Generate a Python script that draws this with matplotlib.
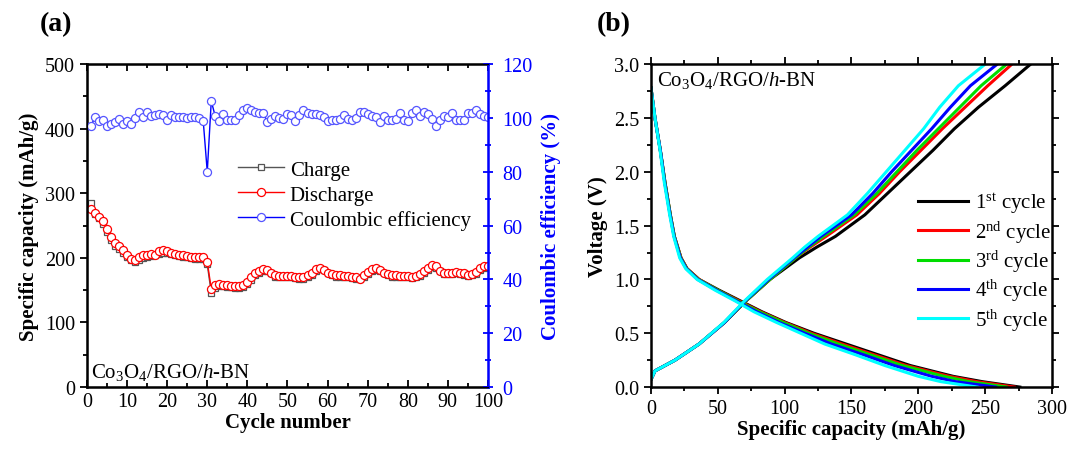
import matplotlib
matplotlib.use("Agg")
import matplotlib.pyplot as plt
from matplotlib.ticker import MultipleLocator

plt.rcParams['font.family'] = ['Liberation Serif', 'DejaVu Serif']
plt.rcParams['mathtext.fontset'] = 'custom'
plt.rcParams['mathtext.rm'] = 'Liberation Serif'
plt.rcParams['mathtext.it'] = 'Liberation Serif:italic'
plt.rcParams['font.size'] = 15

# ---- panel (a): cycling data ----
cycles = list(range(1, 101))
discharge = [276, 270, 264, 257, 245, 232, 223, 218, 212, 205,
             199, 196, 201, 204, 205, 206, 205, 210, 212, 210,
             208, 206, 205, 204, 203, 202, 201, 201, 201, 194,
             152, 158, 160, 158, 158, 157, 156, 156, 158, 163,
             170, 177, 180, 183, 182, 177, 173, 172, 172, 172,
             172, 171, 170, 170, 173, 177, 183, 185, 182, 177,
             175, 173, 173, 172, 172, 171, 170, 168, 173, 178,
             183, 184, 182, 177, 175, 173, 173, 172, 172, 172,
             171, 172, 175, 180, 185, 189, 187, 180, 177, 177,
             177, 178, 177, 176, 173, 175, 178, 185, 188, 188]
charge = [285, 268, 262, 252, 240, 228, 218, 214, 208, 202,
          196, 194, 196, 200, 202, 203, 204, 206, 208, 208,
          206, 204, 203, 202, 201, 200, 199, 199, 199, 190,
          146, 154, 157, 156, 155, 155, 154, 154, 155, 160,
          166, 173, 177, 180, 180, 176, 171, 170, 170, 170,
          170, 169, 168, 168, 170, 174, 180, 183, 181, 176,
          173, 171, 171, 170, 170, 169, 168, 167, 170, 175,
          180, 182, 180, 176, 173, 171, 171, 170, 170, 170,
          169, 170, 172, 177, 182, 186, 185, 179, 175, 175,
          175, 176, 175, 174, 172, 173, 175, 182, 185, 186]
efficiency = [96.9, 100.4, 98.8, 99.4, 97.1, 97.9, 98.4, 99.6, 97.9, 99.0,
              97.9, 100.0, 102.2, 100.4, 102.1, 100.9, 101.2, 101.6, 101.2, 99.4,
              101.2, 100.4, 100.4, 100.2, 100.0, 100.4, 100.4, 100.0, 98.8, 80.0,
              106.3, 100.6, 98.8, 101.5, 99.4, 99.4, 99.4, 101.2, 102.9, 103.7,
              103.1, 102.1, 101.9, 101.9, 98.4, 99.6, 100.6, 100.0, 99.6, 101.6,
              101.2, 99.0, 101.2, 103.1, 101.9, 101.6, 101.6, 101.2, 100.4, 98.8,
              99.4, 99.4, 99.6, 101.2, 99.6, 99.4, 100.0, 102.1, 102.1, 101.6,
              100.6, 100.4, 98.4, 100.9, 99.4, 99.4, 99.6, 101.9, 99.4, 98.8,
              101.9, 103.1, 100.9, 102.1, 101.6, 99.6, 97.1, 99.4, 100.6, 100.4,
              101.9, 99.1, 99.1, 99.1, 101.9, 101.9, 102.9, 101.6, 100.6, 100.4]

# ---- panel (b): voltage profiles, capacity read at fixed voltages ----
cycle_labels = ['1$^{\\mathrm{st}}$ cycle', '2$^{\\mathrm{nd}}$ cycle', '3$^{\\mathrm{rd}}$ cycle',
                '4$^{\\mathrm{th}}$ cycle', '5$^{\\mathrm{th}}$ cycle']
cycle_colors = ['black', 'red', '#00dd00', 'blue', 'cyan']

dis_volt = [2.78, 2.5, 2.2, 1.9, 1.6, 1.4, 1.2, 1.1, 1.0, 0.9, 0.8, 0.7, 0.6, 0.5,
            0.4, 0.3, 0.2, 0.1, 0.05, 0.0]
dis_cap_1 = [0, 3, 7, 10.5, 14.5, 17.5, 22.5, 27, 36, 51, 67, 83, 101, 122, 146, 170, 194, 226, 248, 276]
dis_cap_2 = [0, 3, 7, 10.5, 14.5, 17.5, 22.5, 27, 36, 50, 66, 82, 100, 120, 143, 167, 191, 223, 244, 272]
dis_cap_3 = [0, 3, 7, 10.5, 14.5, 17.5, 22.3, 26.8, 35.5, 50, 65, 81, 99, 118, 140, 164, 188, 219, 238, 266]
dis_cap_4 = [0, 3, 7, 10.3, 14.3, 17.3, 22, 26.5, 35, 49, 64, 79, 96, 115, 135, 159, 182, 210, 228, 258]
dis_cap_5 = [0, 3, 6.8, 10, 14, 17, 21.5, 26, 34.5, 48, 63, 77, 94, 112, 130, 153, 175, 200, 217, 244]

chg_volt = [0.07, 0.15, 0.25, 0.4, 0.6, 0.8, 1.0, 1.2, 1.3, 1.4, 1.6, 1.8, 2.0, 2.2, 2.4, 2.6, 2.8, 3.0]
chg_cap_1 = [0, 3, 18, 36, 55, 71, 89, 111, 124, 138, 160, 177, 194, 211, 227, 245, 265, 284]
chg_cap_2 = [0, 3, 18, 36, 55, 71, 89, 108, 119, 131, 154, 171, 186, 202, 218, 235, 252, 270]
chg_cap_3 = [0, 3, 18, 36, 55, 71, 89, 108, 118, 129, 152, 169, 184, 199, 215, 231, 247, 266]
chg_cap_4 = [0, 3, 18, 36, 55, 70.5, 88, 107, 117, 127, 150, 166, 180, 195, 210, 224, 239, 259]
chg_cap_5 = [0, 3, 18, 36, 54.5, 70, 87, 106, 115, 125, 147, 162, 176, 190, 204, 216, 230, 250]

dis_caps = [dis_cap_1, dis_cap_2, dis_cap_3, dis_cap_4, dis_cap_5]
chg_caps = [chg_cap_1, chg_cap_2, chg_cap_3, chg_cap_4, chg_cap_5]

fig = plt.figure(figsize=(10.71, 4.56), dpi=100)
ax1 = fig.add_axes([0.0812, 0.149, 0.3744, 0.708])
ax2 = ax1.twinx()
ax3 = fig.add_axes([0.6078, 0.149, 0.3744, 0.708])

# (a)
l1, = ax1.plot(cycles, charge, color='#555555', lw=1, marker='s', ms=4.8, mfc='white',
               mec='#555555', mew=0.9, label='Charge')
l2, = ax1.plot(cycles, discharge, color='red', lw=1, marker='o', ms=5.8, mfc='white',
               mec='red', mew=0.9, label='Discharge')
l3, = ax2.plot(cycles, efficiency, color='blue', lw=1, marker='o', ms=5.8, mfc='white',
               mec='#5555ff', mew=0.9, label='Coulombic efficiency')
ax1.set_xlim(0, 100)
ax1.set_ylim(0, 500)
ax2.set_ylim(0, 120)
ax1.xaxis.set_major_locator(MultipleLocator(10))
ax1.xaxis.set_minor_locator(MultipleLocator(5))
ax1.yaxis.set_major_locator(MultipleLocator(100))
ax1.yaxis.set_minor_locator(MultipleLocator(50))
ax2.yaxis.set_major_locator(MultipleLocator(20))
ax2.yaxis.set_minor_locator(MultipleLocator(10))
ax1.set_xlabel('Cycle number', fontweight='bold', fontsize=15, labelpad=1)
ax1.set_ylabel('Specific capacity (mAh/g)', fontweight='bold', fontsize=15)
ax2.set_ylabel('Coulombic efficiency (%)', fontweight='bold', fontsize=15, color='blue',
               labelpad=6)
for s in ['left', 'bottom', 'top']:
    ax1.spines[s].set_linewidth(1.8)
ax2.spines['right'].set_color('blue')
ax2.spines['right'].set_linewidth(1.8)
ax1.tick_params(which='both', direction='out', width=1.3, labelsize=14.5, top=True)
ax1.tick_params(which='major', length=5)
ax1.tick_params(which='minor', length=3)
ax1.tick_params(axis='x', which='both', direction='in')
ax2.tick_params(which='both', direction='inout', colors='blue', width=1.3, labelsize=14.5,
                pad=7)
ax2.tick_params(which='major', length=7)
ax2.tick_params(which='minor', length=5)
ax1.text(0.01, 0.03, 'Co$_3$O$_4$/RGO/$h$-BN', transform=ax1.transAxes, fontsize=15)
ax1.legend(handles=[l1, l2, l3], loc='upper left', bbox_to_anchor=(0.35, 0.735),
           frameon=False, fontsize=15, handlelength=2.2, handletextpad=0.3,
           labelspacing=0.25, borderpad=0)
fig.text(0.037, 0.945, '(a)', fontsize=20, fontweight='bold', va='center')

# (b)
for i in range(5):
    ax3.plot(dis_caps[i], dis_volt, color=cycle_colors[i], lw=2.2)
    ax3.plot(chg_caps[i], chg_volt, color=cycle_colors[i], lw=2.2, label=cycle_labels[i])
ax3.set_xlim(0, 300)
ax3.set_ylim(0, 3.0)
ax3.xaxis.set_major_locator(MultipleLocator(50))
ax3.xaxis.set_minor_locator(MultipleLocator(25))
ax3.yaxis.set_major_locator(MultipleLocator(0.5))
ax3.yaxis.set_minor_locator(MultipleLocator(0.25))
ax3.set_xlabel('Specific capacity (mAh/g)', fontweight='bold', fontsize=15, labelpad=1)
ax3.set_ylabel('Voltage (V)', fontweight='bold', fontsize=15)
for s in ax3.spines.values():
    s.set_linewidth(1.8)
ax3.tick_params(which='both', direction='in', top=True, right=True, labeltop=False,
                labelright=False, width=1.3, labelsize=14.5)
ax3.tick_params(which='major', length=5)
ax3.tick_params(which='minor', length=3)
ax3.tick_params(axis='x', which='both', direction='out', bottom=True)
ax3.tick_params(axis='y', which='both', direction='out', left=True)
ax3.text(0.015, 0.985, 'Co$_3$O$_4$/RGO/$h$-BN', transform=ax3.transAxes, fontsize=15,
         va='top')
ax3.legend(loc='upper left', bbox_to_anchor=(0.64, 0.64), frameon=False, fontsize=15,
           handlelength=2.4, handletextpad=0.35, labelspacing=0.15, borderpad=0)
fig.text(0.557, 0.945, '(b)', fontsize=20, fontweight='bold', va='center')

fig.savefig('out.png', dpi=100)
